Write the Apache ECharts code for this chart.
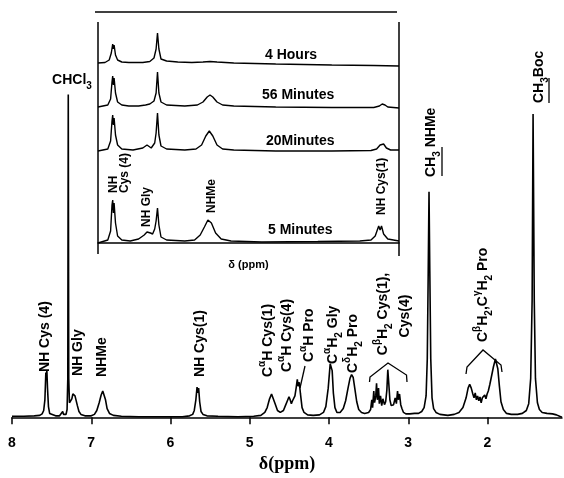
<!DOCTYPE html>
<html>
<head>
<meta charset="utf-8">
<script src="https://cdn.jsdelivr.net/npm/echarts@6/dist/echarts.min.js"></script>
<style>
  html, body { margin: 0; padding: 0; background: #fff; }
  #main { width: 564px; height: 478px; }
</style>
</head>
<body>
<div id="main"></div>
<script>
// main spectrum, [ppm, intensity]
const mainSpectrum = [
  [8.00, 1], [7.85, 1], [7.72, 1.5], [7.65, 2], [7.62, 3.5], [7.60, 7], [7.585, 18], [7.573, 46], [7.567, 40],
  [7.56, 48], [7.552, 30], [7.54, 11], [7.525, 4], [7.50, 2], [7.45, 1.5], [7.40, 1.5], [7.375, 3], [7.36, 6],
  [7.35, 3], [7.335, 5], [7.318, 3], [7.305, 8], [7.296, 40], [7.29, 332], [7.284, 40], [7.275, 15], [7.262, 14],
  [7.245, 19], [7.232, 24], [7.218, 26], [7.205, 22], [7.19, 20], [7.175, 12], [7.155, 6], [7.13, 3], [7.08, 1.5],
  [7.00, 1.5], [6.96, 3], [6.93, 7], [6.90, 15], [6.875, 23], [6.855, 27], [6.84, 26], [6.82, 18], [6.80, 9],
  [6.77, 4], [6.72, 2], [6.62, 1], [6.40, 0.5], [6.10, 0.5], [5.85, 0.5], [5.76, 1.5], [5.72, 3], [5.70, 7],
  [5.68, 18], [5.665, 31], [5.655, 25], [5.645, 30], [5.632, 16], [5.615, 6], [5.59, 3], [5.54, 1.5], [5.40, 1],
  [5.15, 0.5], [4.95, 1], [4.86, 2], [4.81, 5], [4.78, 10], [4.75, 19], [4.725, 24], [4.705, 22], [4.68, 14],
  [4.65, 7], [4.615, 5], [4.575, 7], [4.55, 12], [4.525, 17], [4.505, 21], [4.49, 18], [4.475, 14], [4.46, 17],
  [4.445, 15], [4.43, 22], [4.415, 30], [4.40, 39], [4.39, 32], [4.375, 36], [4.36, 24], [4.34, 10], [4.315, 5],
  [4.27, 2.5], [4.20, 2], [4.12, 2.5], [4.07, 5], [4.04, 11], [4.01, 30], [3.985, 55], [3.972, 57], [3.96, 48],
  [3.945, 25], [3.925, 10], [3.90, 5], [3.86, 5], [3.82, 9], [3.79, 17], [3.76, 30], [3.735, 40], [3.715, 44],
  [3.695, 41], [3.675, 30], [3.65, 16], [3.625, 8], [3.59, 5], [3.55, 4], [3.50, 5], [3.475, 8], [3.46, 18],
  [3.45, 10], [3.435, 27], [3.425, 15], [3.41, 22], [3.40, 35], [3.39, 18], [3.375, 30], [3.365, 14], [3.35, 22],
  [3.335, 12], [3.32, 19], [3.30, 13], [3.285, 16], [3.27, 28], [3.258, 49], [3.245, 34], [3.232, 18], [3.215, 12],
  [3.20, 10], [3.185, 13], [3.165, 20], [3.15, 14], [3.135, 27], [3.125, 18], [3.11, 24], [3.095, 13], [3.08, 9],
  [3.06, 5], [3.03, 3.5], [2.98, 3.5], [2.92, 4], [2.87, 4], [2.83, 6], [2.80, 10], [2.775, 22], [2.76, 60],
  [2.748, 150], [2.738, 232], [2.728, 150], [2.716, 60], [2.70, 20], [2.68, 9], [2.65, 5], [2.60, 3], [2.50, 2],
  [2.42, 3], [2.36, 5], [2.31, 10], [2.27, 20], [2.245, 30], [2.225, 34], [2.205, 30], [2.185, 24], [2.17, 20],
  [2.155, 25], [2.14, 18], [2.125, 22], [2.11, 17], [2.095, 21], [2.08, 15], [2.065, 20], [2.05, 18], [2.035, 23],
  [2.02, 19], [2.005, 24], [1.99, 27], [1.97, 34], [1.95, 42], [1.925, 52], [1.90, 60], [1.885, 59], [1.87, 50],
  [1.85, 32], [1.83, 16], [1.80, 8], [1.76, 4], [1.70, 3], [1.62, 3], [1.56, 4], [1.51, 7], [1.48, 14],
  [1.455, 40], [1.437, 120], [1.425, 312], [1.41, 120], [1.395, 40], [1.37, 15], [1.345, 8], [1.31, 5],
  [1.25, 4], [1.18, 3.5], [1.13, 2.5], [1.09, 1], [1.06, 0]
];

// inset traces (7.67 - 5.52 ppm)
const trace4h = [
  [7.67, 0], [7.62, 0.5], [7.59, 3], [7.575, 10], [7.565, 19], [7.56, 14], [7.555, 18], [7.545, 8], [7.53, 3],
  [7.50, 1], [7.45, 0.5], [7.35, 0.5], [7.30, 1.5], [7.27, 5], [7.255, 14], [7.245, 30], [7.235, 14], [7.22, 4],
  [7.18, 2], [7.10, 1], [7.00, 0.5], [6.92, 1], [6.87, 1.5], [6.82, 1], [6.70, 0], [6.40, -1], [6.00, -2],
  [5.70, -2.5], [5.52, -3]
];
const trace56m = [
  [7.67, 0], [7.60, 2], [7.58, 8], [7.57, 25], [7.565, 31], [7.56, 22], [7.555, 29], [7.545, 14], [7.53, 5],
  [7.50, 2], [7.45, 1], [7.38, 1], [7.33, 2], [7.30, 3], [7.27, 6], [7.255, 14], [7.245, 35], [7.235, 14],
  [7.22, 5], [7.18, 2], [7.05, 1], [6.96, 2], [6.92, 5], [6.89, 10], [6.87, 12], [6.85, 10], [6.82, 5], [6.78, 2],
  [6.70, 1], [6.40, 0], [6.00, -0.5], [5.70, -0.5], [5.66, 1], [5.64, 3], [5.62, 2], [5.60, 0], [5.52, -1]
];
const trace20m = [
  [7.67, 0], [7.60, 2], [7.58, 10], [7.57, 30], [7.565, 36], [7.56, 26], [7.555, 33], [7.545, 16], [7.53, 6],
  [7.50, 2], [7.42, 1], [7.35, 3], [7.32, 6], [7.31, 5], [7.29, 3], [7.265, 8], [7.255, 18], [7.245, 38],
  [7.235, 16], [7.22, 5], [7.18, 2], [7.05, 1], [6.97, 2], [6.93, 6], [6.90, 15], [6.875, 20], [6.85, 15],
  [6.82, 6], [6.78, 2], [6.70, 1], [6.40, 0], [6.00, 0], [5.72, 0.5], [5.68, 2], [5.655, 6], [5.645, 4],
  [5.63, 7], [5.61, 3], [5.58, 1], [5.52, 1]
];
const trace5m = [
  [7.67, 0], [7.60, 3], [7.58, 12], [7.57, 38], [7.565, 43], [7.56, 30], [7.555, 40], [7.545, 20], [7.53, 7],
  [7.50, 3], [7.44, 2], [7.38, 4], [7.34, 8], [7.32, 11], [7.31, 12], [7.295, 10], [7.28, 9], [7.265, 14],
  [7.255, 22], [7.245, 35], [7.235, 18], [7.22, 6], [7.18, 3], [7.05, 2], [6.98, 3], [6.94, 8], [6.91, 16],
  [6.885, 23], [6.86, 20], [6.83, 10], [6.79, 4], [6.72, 2], [6.50, 1], [6.10, 1.5], [5.80, 2], [5.72, 3],
  [5.69, 7], [5.665, 17], [5.655, 13], [5.645, 17], [5.63, 9], [5.60, 4], [5.56, 3], [5.52, 2]
];
const traceNames = ['4 Hours', '56 Minutes', '20Minutes', '5 Minutes'];
const ppmTicks = [8, 7, 6, 5, 4, 3, 2];

const FONT = 'Liberation Sans';
const rich = {
  n: { fontSize: 14, fontWeight: 'bold', fontFamily: FONT, lineHeight: 22, fill: '#000' },
  sup: { fontSize: 10, fontWeight: 'bold', fontFamily: FONT, verticalAlign: 'top', fill: '#000' },
  sub: { fontSize: 10, fontWeight: 'bold', fontFamily: FONT, verticalAlign: 'bottom', fill: '#000' }
};

// rotated label reading bottom to top
function vlabel (x, y, text, align, size) {
  return {
    type: 'text', x: x, y: y, rotation: Math.PI / 2, z: 10,
    style: {
      text: text, rich: rich, align: align || 'left', verticalAlign: 'middle',
      fontSize: size || 14, fontWeight: 'bold', fontFamily: FONT, fill: '#000', lineHeight: (size || 14) - 1
    }
  };
}
function line (pts, w) {
  return { type: 'polyline', z: 10, shape: { points: pts }, style: { stroke: '#000', lineWidth: w || 1.3, fill: null } };
}
function hlabel (x, y, text, align) {
  return {
    type: 'text', x: x, y: y, z: 10,
    style: { text: text, rich: rich, align: align || 'left', verticalAlign: 'middle', fontSize: 14, fontWeight: 'bold', fontFamily: FONT, fill: '#000' }
  };
}

const myChart = echarts.init(document.getElementById('main'));

const insetRows = [
  { top: 22, bottom: 411, min: -4, max: 41 },
  { top: 60, bottom: 367, min: -4, max: 47 },
  { top: 100, bottom: 323, min: -4, max: 51 },
  { top: 150, bottom: 224, min: -11, max: 93 }
];
const traces = [trace4h, trace56m, trace20m, trace5m];

const grids = [{ left: 12, right: 2, top: 80, bottom: 44 }];
const xAxes = [{
  type: 'value', gridIndex: 0, inverse: true, min: 1.06, max: 8,
  splitLine: { show: false },
  axisLine: { lineStyle: { color: '#000', width: 1.5 } },
  axisTick: { customValues: ppmTicks, length: 7, lineStyle: { color: '#000', width: 1.5 } },
  axisLabel: { customValues: ppmTicks, color: '#000', fontSize: 14, fontWeight: 'bold', fontFamily: FONT, margin: 12 },
  name: 'δ(ppm)', nameLocation: 'middle', nameGap: 25,
  nameTextStyle: { color: '#000', fontSize: 18, fontWeight: 'bold', fontFamily: 'Liberation Serif' }
}];
const yAxes = [{ type: 'value', gridIndex: 0, min: -7, max: 347, show: false }];
const series = [{
  type: 'line', xAxisIndex: 0, yAxisIndex: 0, data: mainSpectrum, showSymbol: false,
  lineStyle: { color: '#000', width: 1.6 }, clip: false
}];

insetRows.forEach(function (r, i) {
  grids.push({ left: 98, right: 165, top: r.top, bottom: r.bottom });
  const last = i === insetRows.length - 1;
  xAxes.push({
    type: 'value', gridIndex: i + 1, inverse: true, min: 5.52, max: 7.67,
    show: last, splitLine: { show: false },
    axisLine: { lineStyle: { color: '#000', width: 1.5 } },
    axisTick: { show: false }, axisLabel: { show: false },
    name: last ? 'δ (ppm)' : '', nameLocation: 'middle', nameGap: 5,
    nameTextStyle: { color: '#000', fontSize: 11, fontWeight: 'bold', fontFamily: FONT }
  });
  yAxes.push({ type: 'value', gridIndex: i + 1, min: r.min, max: r.max, show: false });
  series.push({
    type: 'line', xAxisIndex: i + 1, yAxisIndex: i + 1, data: traces[i], showSymbol: false,
    lineStyle: { color: '#000', width: 1.4 }, clip: false
  });
});

const traceLabelPos = [[265, 55], [262, 95], [266, 141], [268, 230]];

const graphic = [
  // inset frame
  line([[95, 12], [397, 12]], 1.5),
  line([[98, 22], [98, 254]], 1.5),
  line([[399, 22], [399, 256]], 1.5),
  // main annotations
  vlabel(45, 372, '{n|NH Cys (4)}'),
  hlabel(72, 80, '{n|CHCl}{sub|3}', 'center'),
  vlabel(78, 376, '{n|NH Gly}'),
  vlabel(102, 377, '{n|NHMe}'),
  vlabel(200, 377, '{n|NH Cys(1)}'),
  vlabel(268, 377, '{n|C}{sup|α}{n|H Cys(1)}'),
  vlabel(287, 372, '{n|C}{sup|α}{n|H Cys(4)}'),
  vlabel(309, 362, '{n|C}{sup|α}{n|H Pro}'),
  line([[305, 366], [300, 388]]),
  vlabel(333, 364, '{n|C}{sup|α}{n|H}{sub|2}{n| Gly}'),
  vlabel(353, 373, '{n|C}{sup|δ}{n|H}{sub|2}{n| Pro}'),
  vlabel(383, 314, '{n|C}{sup|β}{n|H}{sub|2}{n| Cys(1),}', 'center'),
  vlabel(405, 316, '{n|Cys(4)}', 'center'),
  line([[369.5, 382], [370, 377], [388, 363], [406.5, 375], [407, 382]]),
  vlabel(431, 177, '{n|CH}{sub|3}{n| NHMe}'),
  line([[442, 147], [442, 176]]),
  vlabel(483, 342, '{n|C}{sup|β}{n|H}{sub|2}{n|,C}{sup|γ}{n|H}{sub|2}{n| Pro}'),
  line([[466, 374], [467, 367], [483, 350], [501, 365], [502, 372]]),
  vlabel(539, 103, '{n|CH}{sub|3}{n|Boc}'),
  line([[549, 78], [549, 103]]),
  // inset annotations
  vlabel(119.5, 193, 'NH\nCys (4)', 'left', 12),
  vlabel(147, 227, 'NH Gly', 'left', 12),
  vlabel(212, 213, 'NHMe', 'left', 12),
  vlabel(382, 215, 'NH Cys(1)', 'left', 12)
];
traceNames.forEach(function (t, i) {
  graphic.push({
    type: 'text', x: traceLabelPos[i][0], y: traceLabelPos[i][1], z: 10,
    style: { text: t, align: 'left', verticalAlign: 'middle', fontSize: 14, fontWeight: 'bold', fontFamily: FONT, fill: '#000' }
  });
});

myChart.setOption({
  backgroundColor: '#fff',
  animation: false,
  grid: grids,
  xAxis: xAxes,
  yAxis: yAxes,
  series: series,
  graphic: graphic
});
</script>
</body>
</html>
